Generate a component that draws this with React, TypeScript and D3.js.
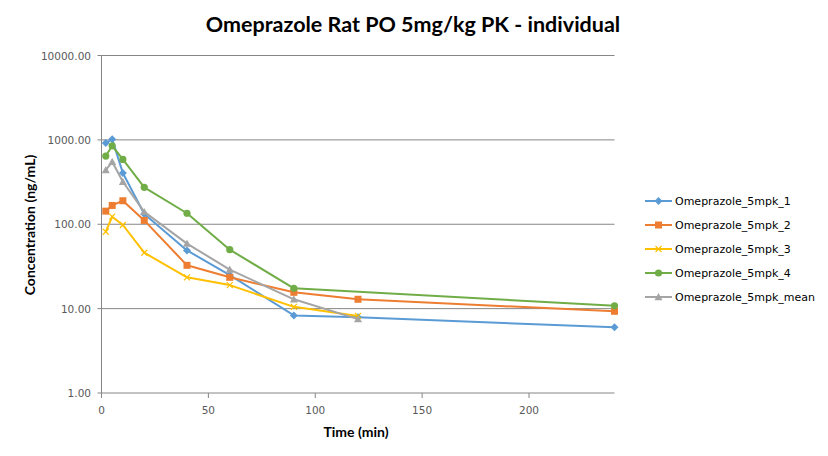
import React from "react";
import * as d3 from "d3";

const times = [2, 5, 10, 20, 40, 60, 90, 120, 240];
const s1 = [916, 1020, 404, 132, 49, 25, 8.3, 7.9, 6.0];
const s2 = [143, 167, 190, 111, 32.6, 23.5, 15.6, 12.9, 9.3];
const s3 = [81.5, 123, 98, 46, 23.5, 19, 10.5, 8.2, null];
const s4 = [643, 851, 587, 274, 135, 50, 17.4, null, 10.8];
const sMean = [439, 550, 319, 140, 59, 29, 12.9, 7.5, null];

const seriesNames = [
  "Omeprazole_5mpk_1",
  "Omeprazole_5mpk_2",
  "Omeprazole_5mpk_3",
  "Omeprazole_5mpk_4",
  "Omeprazole_5mpk_mean",
];
const seriesValues = [s1, s2, s3, s4, sMean];
const colors = ["#5B9BD5", "#ED7D31", "#FFC000", "#70AD47", "#A5A5A5"];
const markers = ["diamond", "square", "x", "circle", "triangle"];

const xTicks = [0, 50, 100, 150, 200];
const yTicks = [1, 10, 100, 1000, 10000];

const W = 828;
const H = 456;
const left = 101.5;
const right = 614.5;
const top = 55.5;
const bottom = 393;

function Marker({ type, x, y, color }: { type: string; x: number; y: number; color: string }) {
  if (type === "diamond") {
    const s = 4;
    return <path d={`M${x},${y - s}L${x + s},${y}L${x},${y + s}L${x - s},${y}Z`} fill={color} />;
  }
  if (type === "square") {
    const s = 3.5;
    return <rect x={x - s} y={y - s} width={2 * s} height={2 * s} fill={color} />;
  }
  if (type === "circle") {
    return <circle cx={x} cy={y} r={3.6} fill={color} />;
  }
  if (type === "triangle") {
    const s = 4;
    return <path d={`M${x},${y - s}L${x + s},${y + s * 0.8}L${x - s},${y + s * 0.8}Z`} fill={color} />;
  }
  const s = 3;
  return (
    <path d={`M${x - s},${y - s}L${x + s},${y + s}M${x - s},${y + s}L${x + s},${y - s}`} stroke={color} strokeWidth={1.2} />
  );
}

export default function App() {
  const x = d3.scaleLinear().domain([0, 240]).range([left, right]);
  const y = d3.scaleLog().domain([1, 10000]).range([bottom, top]);

  const line = d3
    .line<[number, number]>()
    .x((d) => x(d[0]))
    .y((d) => y(d[1]));

  const labelFont = "'DejaVu Sans', sans-serif";
  const boldFont = "Lato, 'Open Sans', sans-serif";

  return (
    <svg width={W} height={H} style={{ position: "absolute", left: 0, top: 0, background: "#fff" }}>
      <rect width={W} height={H} fill="#fff" />
      <text x={413} y={32} textAnchor="middle" fontFamily={boldFont} fontWeight="bold" fontSize={21.5} fill="#000">
        Omeprazole Rat PO 5mg/kg PK - individual
      </text>

      {yTicks.map((t) => (
        <g key={t}>
          <line x1={left - 4} x2={right} y1={y(t)} y2={y(t)} stroke="#868686" strokeWidth={1} />
          <text x={91} y={y(t) + 4} textAnchor="end" fontFamily={labelFont} fontSize={10.5} fill="#595959">
            {t.toFixed(2)}
          </text>
        </g>
      ))}
      <line x1={left} x2={left} y1={top} y2={bottom} stroke="#868686" strokeWidth={1} />
      {xTicks.map((t) => (
        <g key={t}>
          <line x1={x(t)} x2={x(t)} y1={bottom} y2={bottom + 5} stroke="#868686" strokeWidth={1} />
          <text x={x(t)} y={bottom + 21} textAnchor="middle" fontFamily={labelFont} fontSize={10.5} fill="#595959">
            {t}
          </text>
        </g>
      ))}

      {seriesValues.map((vals, i) => {
        const pts = times
          .map((t, j) => [t, vals[j]] as [number, number | null])
          .filter((p) => p[1] != null) as [number, number][];
        return (
          <g key={i}>
            <path d={line(pts) || ""} fill="none" stroke={colors[i]} strokeWidth={2} strokeLinejoin="round" />
            {pts.map((p, j) => (
              <Marker key={j} type={markers[i]} x={x(p[0])} y={y(p[1])} color={colors[i]} />
            ))}
          </g>
        );
      })}

      <text
        transform={`translate(35,225) rotate(-90)`}
        textAnchor="middle"
        fontFamily={boldFont}
        fontWeight="bold"
        fontSize={14}
        fill="#000"
      >
        Concentration (ng/mL)
      </text>
      <text x={356} y={437} textAnchor="middle" fontFamily={boldFont} fontWeight="bold" fontSize={14} fill="#000">
        Time (min)
      </text>

      {seriesNames.map((n, i) => {
        const ly = 201 + i * 24;
        return (
          <g key={n}>
            <line x1={645} x2={672} y1={ly} y2={ly} stroke={colors[i]} strokeWidth={2} />
            <Marker type={markers[i]} x={658.5} y={ly} color={colors[i]} />
            <text x={675} y={ly + 4} fontFamily={labelFont} fontSize={11} fill="#000">
              {n}
            </text>
          </g>
        );
      })}
    </svg>
  );
}
